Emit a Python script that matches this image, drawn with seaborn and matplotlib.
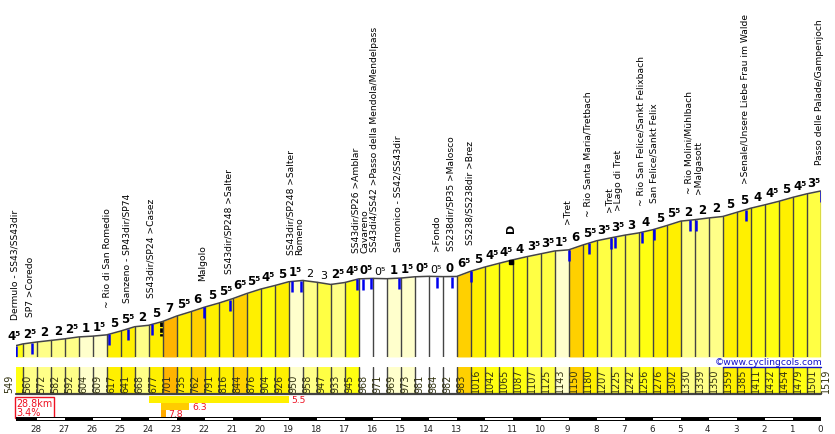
import numpy as np
import pandas as pd
import matplotlib
matplotlib.use("Agg")
import matplotlib.pyplot as plt
import seaborn as sns

# altitude at each kilometre mark of the climb (m)
altitudes = [549, 560, 572, 582, 592, 604, 609, 617, 641, 668, 677, 701, 735, 762, 791,
             816, 844, 876, 904, 926, 950, 958, 947, 933, 945, 968, 971, 969, 973, 981,
             984, 982, 983, 1016, 1042, 1065, 1087, 1107, 1125, 1143, 1150, 1180, 1207,
             1225, 1242, 1256, 1276, 1302, 1330, 1339, 1350, 1359, 1385, 1411, 1432,
             1454, 1479, 1501, 1519]

# distance to the top for each altitude (km), first stretch is a short one
dist_start = 28.75
distances = [dist_start] + [28.5 - 0.5 * i for i in range(58)]

# slope of each stretch as written above the profile (%)
slopes = [4.5, 2.5, 2, 2, 2.5, 1, 1.5, 5, 5.5, 2, 5, 7, 5.5, 6, 5, 5.5, 6.5, 5.5, 4.5, 5,
          1.5, 2, 3, 2.5, 4.5, 0.5, 0.5, 1, 1.5, 0.5, 0.5, 0, 6.5, 5, 4.5, 4.5, 4, 3.5,
          3.5, 1.5, 6, 5.5, 3.5, 3.5, 3, 4, 5, 5.5, 2, 2, 2, 5, 5, 4, 4.5, 5, 4.5, 3.5]

# places along the road
place_km = [28.75, 28.17, 25.43, 24.74, 23.88, 22.04, 21.1, 18.88, 18.56, 16.56, 16.36,
            16.06, 15.06, 13.7, 13.17, 12.49, 8.99, 8.28, 7.49, 7.35, 6.38, 5.96, 4.67,
            4.45, 2.67, 0.0]
place_names = ["Dermulo - SS43/SS43dir", "SP7 >Coredo", "~ Rio di San Romedio",
               "Sanzeno - SP43dir/SP74", "SS43dir/SP24 >Casez", "Malgolo",
               "SS43dir/SP248 >Salter", "SS43dir/SP248 >Salter", "Romeno",
               "SS43dir/SP26 >Amblar", "Cavareno",
               "SS43di4/SS42 >Passo della Mendola/Mendelpass",
               "Sarnonico - SS42/SS43dir", ">Fondo", "SS238dir/SP35 >Malosco",
               "SS238/SS238dir >Brez", ">Tret", "~ Rio Santa Maria/Tretbach", ">Tret",
               ">Lago di Tret", "~ Rio San Felice/Sankt Felixbach",
               "San Felice/Sankt Felix", "~ Rio Molini/Mühlbach", ">Malgasott",
               ">Senale/Unsere Liebe Frau im Walde", "Passo delle Palade/Gampenjoch"]
# small sideways shifts of a label in pixels, where it leaves its marker
label_nudge = {"Cavareno": 2, "SS43di4/SS42 >Passo della Mendola/Mendelpass": 3,
               ">Lago di Tret": 4, ">Malgasott": 2, "San Felice/Sankt Felix": 0}

# hardest sections: start km, end km, average slope
section_start = [24.0, 23.55, 23.55]
section_end = [19.0, 22.55, 23.4]
section_avg = [5.5, 6.3, 7.8]
section_colors = ["#FFF000", "#FFCC00", "#FFAA00"]

km_ticks = list(range(28, -1, -1))


def slope_color(s):
    if s < 1:
        return "#FFFFFF"
    if s < 2:
        return "#FFFFCC"
    if s < 3:
        return "#FFFF88"
    if s < 4:
        return "#FFFF44"
    if s < 5:
        return "#FFFF11"
    if s < 6:
        return "#FFF000"
    if s < 7:
        return "#FFD000"
    return "#FFB400"


def slope_text(s):
    if s == int(s):
        return str(int(s))
    return str(int(s)) + "\u2075"


def px_axes(fig, x0, y0, x1, y1):
    # pixel box, y measured from the top of the image
    W, H = 835.0, 435.0
    ax = fig.add_axes([x0 / W, 1 - y1 / H, (x1 - x0) / W, (y1 - y0) / H])
    ax.set_axis_off()
    return ax


sns.set_theme(style="white")
plt.rcParams["font.family"] = "DejaVu Sans"

fig = plt.figure(figsize=(8.35, 4.35), dpi=100, facecolor="white")

left, right = 15.7, 820.7
px_per_m = 0.1595
base_y = 358.0
base_alt = 549 - (base_y - 346.7) / px_per_m
top_alt = base_alt + base_y / px_per_m

df = pd.DataFrame({"km": distances, "alt": altitudes})
LINE = "#444444"

# ------------------------------------------------------------
# Profile
# ------------------------------------------------------------
ax = px_axes(fig, left, 0, right, base_y)
ax.set_xlim(dist_start, 0)
ax.set_ylim(base_alt, top_alt)

for i, s in enumerate(slopes):
    ax.fill_between(distances[i:i + 2], altitudes[i:i + 2], base_alt,
                    color=slope_color(s), linewidth=0, zorder=1)
    ax.plot([distances[i + 1]] * 2, [base_alt, altitudes[i + 1]],
            color=LINE, linewidth=1.0, zorder=2)
    # downhill stretches are written in normal weight
    up = altitudes[i + 1] >= altitudes[i]
    shift = -3.6 if i == 0 else 0
    ax.annotate(slope_text(s),
                xy=((distances[i] + distances[i + 1]) / 2, max(altitudes[i], altitudes[i + 1])),
                xytext=(shift, 1.5), textcoords="offset points", ha="center", va="bottom",
                fontsize=8.5 if up else 8, fontweight="bold" if up else "normal",
                color="black", annotation_clip=False)

sns.lineplot(data=df, x="km", y="alt", ax=ax, color=LINE, linewidth=1.1, zorder=3,
             estimator=None, sort=False)
ax.set_axis_off()

# place markers and their names
km_rev = distances[::-1]
alt_rev = altitudes[::-1]
marker_drop = 11 / px_per_m
for km, name in zip(place_km, place_names):
    alt = np.interp(km, km_rev, alt_rev)
    ax.plot([km, km], [alt, alt - marker_drop], color="#0000EE", linewidth=1.8,
            solid_capstyle="butt", zorder=4)
    nudge = label_nudge.get(name, -1)
    ax.annotate(name, xy=(km, alt), xytext=(nudge * 0.72, 27 * 0.72),
                textcoords="offset points", rotation=90, ha="center", va="bottom",
                fontsize=6.6, color="black", annotation_clip=False)

# start of the hardest part and the tunnel on the road
ax.plot([23.55, 23.55], [697, 610], color="black", linewidth=2.0,
        linestyle=(0, (1.6, 0.5)), zorder=4)
ax.plot([11.07], [1072], marker="s", markersize=2.8, color="black", zorder=5)
ax.annotate("D", xy=(11.07, 1072), xytext=(0, 21.5), textcoords="offset points", rotation=90,
            ha="center", va="bottom", fontsize=8, fontweight="bold", color="black",
            annotation_clip=False)

# ------------------------------------------------------------
# Altitude band
# ------------------------------------------------------------
band = px_axes(fig, left, 367.7, right, 395.3)
band.set_xlim(dist_start, 0)
band.set_ylim(0, 1)
for i, s in enumerate(slopes):
    band.axvspan(distances[i + 1], distances[i], color=slope_color(s), linewidth=0, zorder=1)
    band.axvline(distances[i + 1], color=LINE, linewidth=1.0, zorder=2)
band.axhline(0, color=LINE, linewidth=1.6, clip_on=False, zorder=3)
for i, (km, alt) in enumerate(zip(distances, altitudes)):
    nudge = -6.5 if i == 0 else 5
    band.annotate(str(alt), xy=(km, 0), xytext=(nudge * 0.72, 1.5), textcoords="offset points",
                  rotation=90, ha="center", va="bottom", fontsize=6.9, color="#333311",
                  annotation_clip=False, zorder=4)

# copyright above the band
ax.text(1.0025, 0.0, "\u00a9www.cyclingcols.com", transform=ax.transAxes, ha="right", va="top",
        fontsize=6.7, color="#1010CC", zorder=6, clip_on=False)
band.plot([3.5, 0], [1, 1], color="#1010CC", linewidth=1.0, clip_on=False, zorder=5)

# ------------------------------------------------------------
# Hardest sections and summary box
# ------------------------------------------------------------
sec = px_axes(fig, left, 397, right, 418)
sec.set_xlim(dist_start, 0)
sec.set_ylim(3, 0)
for i in range(3):
    sec.barh(i + 0.5, section_start[i] - section_end[i], left=section_end[i], height=0.9,
             color=section_colors[i], linewidth=0)
    sec.text(section_end[i] - 0.1, i + 0.5, str(section_avg[i]),
             color="#EE1122", fontsize=6.7, va="center", ha="left")
sec.set_axis_off()

sec.text(dist_start - 0.02, 0.3, "28.8km\n3.4%", color="#EE1122", fontsize=6.9, va="top", ha="left",
         linespacing=0.9,
         bbox=dict(boxstyle="square,pad=0.12", facecolor="white", edgecolor="#EE1122", linewidth=1.0))

# ------------------------------------------------------------
# Kilometre scale
# ------------------------------------------------------------
scale = px_axes(fig, left, 417.7, right, 421.7)
scale.set_xlim(dist_start, 0)
scale.set_ylim(0, 1)
scale.axhspan(0, 1, color="black", linewidth=0)
for km in km_ticks[1::2]:
    scale.barh(0.5, 1, left=km, height=0.5, color="white", linewidth=0)
scale.set_xlim(dist_start, 0)
scale.set_ylim(0, 1)
for km in km_ticks:
    scale.annotate(str(km), xy=(km, 0), xytext=(-0.7, -2.2), textcoords="offset points",
                   ha="center", va="top", fontsize=6.3, color="#222222", annotation_clip=False)

fig.savefig("out.png", dpi=100)
plt.close(fig)
